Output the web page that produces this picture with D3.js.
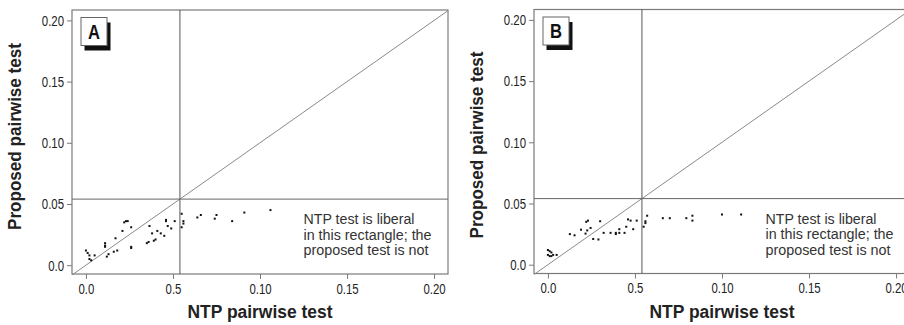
<!DOCTYPE html>
<html>
<head>
<meta charset="utf-8">
<script src="https://cdn.jsdelivr.net/npm/d3@7"></script>
<style>
  body { margin: 0; background: #fff; }
  svg { display: block; }
  text { font-family: "Liberation Sans", Arial, sans-serif; }
</style>
</head>
<body>
<script>
const WIDTH = 904;
const HEIGHT = 325;

// ejes compartidos
const TICKS = [0, 0.05, 0.10, 0.15, 0.20];
const X_TICK_LABELS = ["0.0", "0.5", "0.10", "0.15", "0.20"];
const Y_TICK_LABELS = ["0.0", "0.05", "0.10", "0.15", "0.20"];
const CUTOFF = 0.054;
const NOTE = ["NTP test is liberal", "in this rectangle; the", "proposed test is not"];

// Panel A
const A_NTP = [0.000, 0.001, 0.002, 0.002, 0.003, 0.005, 0.011, 0.011, 0.011, 0.012, 0.013, 0.016,
  0.018, 0.017, 0.021, 0.022, 0.023, 0.024, 0.026, 0.026, 0.026, 0.035, 0.036, 0.0365, 0.038, 0.039,
  0.040, 0.041, 0.043, 0.045, 0.046, 0.046, 0.047, 0.049, 0.051, 0.055, 0.055, 0.056, 0.056, 0.064,
  0.066, 0.074, 0.075, 0.084, 0.091, 0.106];
const A_PROP = [0.012, 0.010, 0.008, 0.005, 0.004, 0.008, 0.018, 0.016, 0.015, 0.007, 0.009, 0.011,
  0.012, 0.022, 0.028, 0.035, 0.036, 0.036, 0.031, 0.015, 0.014, 0.018, 0.019, 0.032, 0.026, 0.020,
  0.021, 0.028, 0.026, 0.024, 0.037, 0.036, 0.032, 0.030, 0.036, 0.042, 0.031, 0.034, 0.036, 0.039,
  0.041, 0.038, 0.041, 0.036, 0.043, 0.045];

// Panel B
const B_NTP = [0.000, 0.001, 0.002, 0.000, 0.002, 0.003, 0.005, 0.001, 0.0126, 0.0153, 0.019, 0.0216,
  0.0226, 0.022, 0.023, 0.0245, 0.026, 0.029, 0.030, 0.032, 0.036, 0.039, 0.039, 0.041, 0.041, 0.044,
  0.045, 0.046, 0.0475, 0.049, 0.051, 0.055, 0.056, 0.056, 0.057, 0.066, 0.070, 0.0795, 0.083, 0.083,
  0.100, 0.111];
const B_PROP = [0.012, 0.011, 0.010, 0.008, 0.007, 0.008, 0.008, 0.007, 0.025, 0.024, 0.0286, 0.0254,
  0.028, 0.035, 0.036, 0.030, 0.021, 0.0206, 0.0355, 0.026, 0.026, 0.026, 0.025, 0.029, 0.026, 0.026,
  0.031, 0.037, 0.036, 0.029, 0.036, 0.031, 0.034, 0.0355, 0.040, 0.038, 0.038, 0.038, 0.040, 0.036,
  0.041, 0.041];

const SVG = d3.select("body").append("svg")
  .attr("width", WIDTH).attr("height", HEIGHT);

// estrecha el texto (la fuente original es condensada)
function estrechar(sel, factor) {
  sel.each(function() {
    const largo = this.getComputedTextLength();
    d3.select(this).attr("textLength", largo * factor).attr("lengthAdjust", "spacingAndGlyphs");
  });
}

function crearPanel(letra, xs, ys, left, top, yLabelX, yLabelY) {
  const W = 376, H = 264;
  const G = SVG.append("g").attr("transform", `translate(${left}, ${top})`);

  const escalaX = d3.scaleLinear().domain([-0.008, 0.208]).range([0, W]);
  const escalaY = d3.scaleLinear().domain([-0.0072, 0.2085]).range([H, 0]);

  // marco
  G.append("rect")
    .attr("x", 0).attr("y", 0).attr("width", W).attr("height", H)
    .attr("fill", "none").attr("stroke", "#7a7a7a").attr("stroke-width", 1.2);

  // diagonal y = x
  G.append("line")
    .attr("x1", escalaX(-0.008)).attr("y1", escalaY(-0.008))
    .attr("x2", escalaX(0.208)).attr("y2", escalaY(0.208))
    .attr("stroke", "#8a8a8a").attr("stroke-width", 1);

  // lineas de corte
  G.append("line")
    .attr("x1", escalaX(CUTOFF)).attr("x2", escalaX(CUTOFF))
    .attr("y1", 0).attr("y2", H)
    .attr("stroke", "#555").attr("stroke-width", 1);
  G.append("line")
    .attr("x1", 0).attr("x2", W)
    .attr("y1", escalaY(CUTOFF)).attr("y2", escalaY(CUTOFF))
    .attr("stroke", "#666").attr("stroke-width", 1);

  const ejeX = d3.axisBottom(escalaX).tickValues(TICKS)
    .tickFormat((d, i) => X_TICK_LABELS[i]).tickSize(5).tickPadding(4);
  const ejeY = d3.axisLeft(escalaY).tickValues(TICKS)
    .tickFormat((d, i) => Y_TICK_LABELS[i]).tickSize(5).tickPadding(3);

  const gx = G.append("g").attr("transform", `translate(0, ${H})`).call(ejeX);
  const gy = G.append("g").call(ejeY);
  [gx, gy].forEach(g => {
    g.select(".domain").remove();
    g.selectAll("line").attr("stroke", "#7a7a7a");
    g.selectAll("text").style("font-size", "15px").attr("fill", "#222")
      .style("font-family", "'Liberation Sans', Arial, sans-serif");
    estrechar(g.selectAll("text"), 0.76);
  });

  // puntos
  const puntos = xs.map((x, i) => ({ x: x, y: ys[i] }));
  G.selectAll(".punto")
    .data(puntos)
    .join("rect")
    .attr("class", "punto")
    .attr("x", d => escalaX(d.x) - 1)
    .attr("y", d => escalaY(d.y) - 1)
    .attr("width", 2).attr("height", 2)
    .attr("fill", "#111");

  // nota
  const anchos = [111, 128, 125];
  const nota = G.append("text")
    .attr("x", escalaX(0.125))
    .attr("y", escalaY(CUTOFF) + 25)
    .style("font-size", "14px")
    .attr("fill", "#333");
  NOTE.forEach((t, i) => {
    nota.append("tspan").attr("x", escalaX(0.125)).attr("dy", i === 0 ? 0 : 15.5)
      .attr("textLength", anchos[i]).attr("lengthAdjust", "spacingAndGlyphs")
      .text(t);
  });

  // etiqueta del panel
  G.append("rect")
    .attr("x", 12.5).attr("y", 12.5).attr("width", 26).attr("height", 28)
    .attr("fill", "#111");
  G.append("rect")
    .attr("x", 9).attr("y", 7.5).attr("width", 26).attr("height", 28)
    .attr("fill", "#fff").attr("stroke", "#666").attr("stroke-width", 1);
  G.append("text")
    .attr("x", 22).attr("y", 28.5)
    .attr("text-anchor", "middle")
    .style("font-size", "19.5px").style("font-weight", "bold")
    .attr("textLength", 12).attr("lengthAdjust", "spacingAndGlyphs")
    .attr("fill", "#111")
    .text(letra);

  // titulos de ejes
  G.append("text")
    .attr("x", W / 2).attr("y", 318 - top)
    .attr("text-anchor", "middle")
    .style("font-size", "17.5px").style("font-weight", "bold")
    .attr("textLength", 145).attr("lengthAdjust", "spacingAndGlyphs")
    .attr("fill", "#222")
    .text("NTP pairwise test");
  G.append("text")
    .attr("transform", `translate(${yLabelX - left}, ${yLabelY - top}) rotate(-90)`)
    .attr("text-anchor", "middle")
    .style("font-size", "17.5px").style("font-weight", "bold")
    .attr("textLength", 187).attr("lengthAdjust", "spacingAndGlyphs")
    .attr("fill", "#222")
    .text("Proposed pairwise test");
}

crearPanel("A", A_NTP, A_PROP, 72, 10, 21, 136.5);
crearPanel("B", B_NTP, B_PROP, 534, 9.5, 483, 145);
</script>
</body>
</html>
